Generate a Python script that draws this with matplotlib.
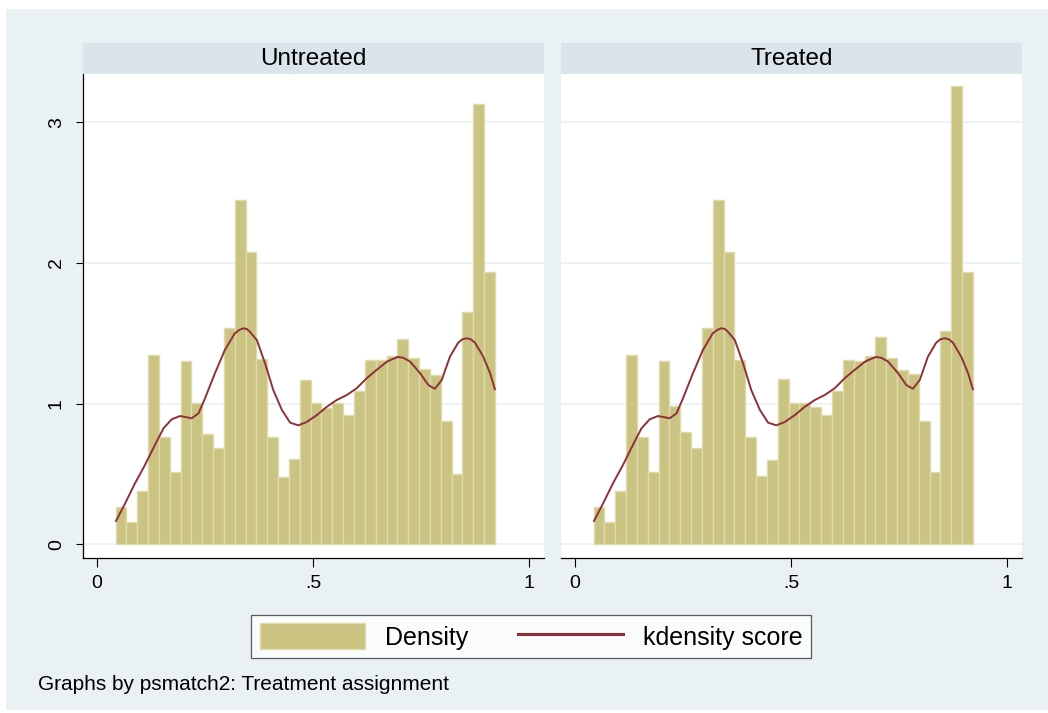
import matplotlib
matplotlib.use("Agg")
import matplotlib.pyplot as plt
import numpy as np
from matplotlib.patches import Patch, Rectangle
from matplotlib.lines import Line2D

plt.rcParams["font.family"] = ["Liberation Sans", "DejaVu Sans"]

# histogram of propensity score, 35 equal bins between min and max score
score_min, score_max, n_bins = 0.043, 0.921, 35
untreated_density = [0.268, 0.156, 0.381, 1.346, 0.765, 0.517, 1.303, 1.002, 0.787, 0.682,
                     1.536, 2.445, 2.076, 1.315, 0.765, 0.481, 0.604, 1.168, 1.002, 0.967,
                     1.002, 0.919, 1.090, 1.313, 1.313, 1.336, 1.460, 1.327, 1.244, 1.204,
                     0.877, 0.502, 1.649, 3.133, 1.934]
treated_density = [0.268, 0.156, 0.381, 1.346, 0.765, 0.517, 1.303, 0.986, 0.799, 0.682,
                   1.536, 2.445, 2.076, 1.313, 0.765, 0.483, 0.597, 1.178, 1.002, 1.002,
                   0.976, 0.919, 1.090, 1.313, 1.303, 1.336, 1.472, 1.327, 1.239, 1.213,
                   0.877, 0.517, 1.517, 3.256, 1.934]

# kdensity of the score (same curve drawn in both panels)
kd_x = [0.044, 0.065, 0.088, 0.111, 0.134, 0.154, 0.173, 0.192, 0.205, 0.219, 0.235, 0.250,
        0.273, 0.296, 0.319, 0.330, 0.339, 0.347, 0.354, 0.370, 0.389, 0.408, 0.428, 0.447,
        0.466, 0.485, 0.509, 0.532, 0.555, 0.578, 0.601, 0.624, 0.647, 0.671, 0.685, 0.697,
        0.710, 0.725, 0.748, 0.767, 0.782, 0.798, 0.817, 0.836, 0.846, 0.856, 0.866, 0.875,
        0.894, 0.910, 0.921]
kd_y = [0.166, 0.291, 0.434, 0.564, 0.706, 0.825, 0.889, 0.912, 0.905, 0.896, 0.931, 1.038,
        1.216, 1.381, 1.500, 1.525, 1.536, 1.530, 1.511, 1.452, 1.287, 1.097, 0.955, 0.865,
        0.846, 0.869, 0.919, 0.978, 1.026, 1.061, 1.109, 1.180, 1.239, 1.298, 1.318, 1.332,
        1.325, 1.298, 1.216, 1.132, 1.106, 1.168, 1.334, 1.433, 1.458, 1.465, 1.456, 1.433,
        1.334, 1.216, 1.102]

panels = ["Untreated", "Treated"]
x_ticks, x_labels = [0, 0.5, 1], ["0", ".5", "1"]
y_ticks = [0, 1, 2, 3]

BG = "#e9f1f3"
STRIP = "#d9e5eb"
BAR = "#cbc382"
BAR_EDGE = "#dfdbac"
LINE = "#8f3039"

W, H = 1048, 713


def box(x0, y0, x1, y1):
    return [x0 / W, 1 - y1 / H, (x1 - x0) / W, (y1 - y0) / H]


fig = plt.figure(figsize=(W / 100, H / 100), dpi=100, facecolor="white")
fig.patches.append(Rectangle((6 / W, 3 / H), 1 - 6 / W, 1 - 12 / H, transform=fig.transFigure,
                             facecolor=BG, edgecolor="none", zorder=-10))

edges = np.linspace(score_min, score_max, n_bins + 1)
bin_w = edges[1] - edges[0]

for i, (name, dens) in enumerate(zip(panels, [untreated_density, treated_density])):
    x0 = 83 if i == 0 else 561
    ax = fig.add_axes(box(x0, 74, x0 + 461, 558))
    ax.set_facecolor("white")
    ax.bar(edges[:-1], dens, width=bin_w, align="edge", color=BAR, edgecolor=BAR_EDGE,
           linewidth=1.0, zorder=2)
    ax.plot(kd_x, kd_y, color=LINE, lw=1.4, zorder=3, solid_joinstyle="round")
    ax.set_xlim(-0.0324, 1.0347)
    ax.set_ylim(-0.097, 3.343)
    ax.set_yticks(y_ticks)
    ax.grid(axis="y", color=BG, lw=1.2, zorder=0)
    ax.set_xticks(x_ticks, x_labels)
    ax.tick_params(axis="x", length=6.5, width=0.8, pad=6, labelsize=14)
    for s in ["top", "right"]:
        ax.spines[s].set_visible(False)
    ax.spines["bottom"].set_linewidth(0.9)
    if i == 0:
        ax.tick_params(axis="y", length=5, width=0.8, pad=8, labelsize=14, labelrotation=90)
        for lbl in ax.get_yticklabels():
            lbl.set_va("center")
        ax.spines["left"].set_linewidth(0.9)
    else:
        ax.tick_params(axis="y", length=0, labelleft=False)
        ax.spines["left"].set_visible(False)

    sax = fig.add_axes(box(x0, 43, x0 + 461, 74))
    sax.set_facecolor(STRIP)
    sax.set_xticks([])
    sax.set_yticks([])
    for s in sax.spines.values():
        s.set_visible(False)
    sax.text(0.5, 0.47, name, ha="center", va="center", fontsize=17.5, transform=sax.transAxes)

handles = [Patch(facecolor=BAR, edgecolor=BAR_EDGE, linewidth=1.0),
           Line2D([], [], color=LINE, lw=2.2)]
leg = fig.legend(handles, ["Density", "kdensity score"], loc="center", ncol=2,
                 bbox_to_anchor=((252 + 810) / 2 / W, 1 - (613 + 660) / 2 / H),
                 fontsize=18, frameon=True, fancybox=False, edgecolor="#333333",
                 handlelength=4.2, handleheight=1.2, handletextpad=0.8, columnspacing=2.0,
                 borderpad=0.35)
leg.get_frame().set_linewidth(0.9)

fig.text(38 / W, 1 - 684 / H, "Graphs by psmatch2: Treatment assignment", fontsize=15,
         va="center", ha="left")

fig.savefig("out.png", dpi=100, facecolor=fig.get_facecolor())
